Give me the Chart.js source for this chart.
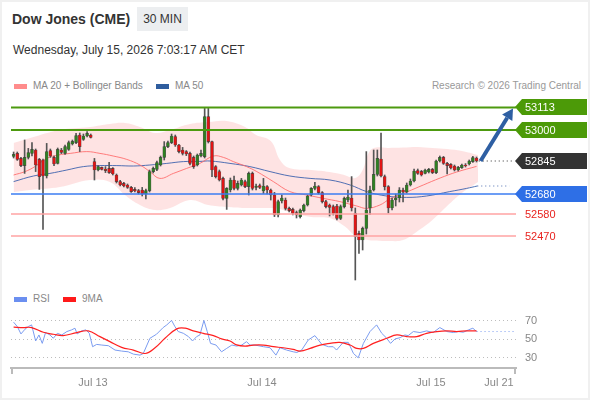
<!DOCTYPE html>
<html>
<head>
<meta charset="utf-8">
<script src="https://cdn.jsdelivr.net/npm/chart.js@4.4.1/dist/chart.umd.min.js"></script>
<style>
    html, body { margin: 0; padding: 0; background: #fff; }
    body { width: 590px; height: 400px; overflow: hidden; position: relative; font-family: "Liberation Sans", Arial, sans-serif; }
    #frame { position: absolute; left: 0; top: 0; width: 590px; height: 400px; box-sizing: border-box; border: 2px solid #f0f0f0; pointer-events: none; }
    .abs { position: absolute; white-space: nowrap; }
    #title { left: 12px; top: 11px; font-size: 14px; line-height: 16px; font-weight: bold; color: #333; }
    #badge { left: 137px; top: 7px; width: 51px; height: 24px; line-height: 24px; text-align: center; font-size: 12px; color: #333; background: #eceef0; }
    #date { left: 13px; top: 43px; font-size: 12px; line-height: 14px; color: #333; }
    .legend { font-size: 10px; line-height: 12px; color: #888; }
    .sw { position: absolute; width: 13px; height: 5px; }
    #price-canvas { position: absolute; left: 0; top: 95px; }
    #rsi-canvas { position: absolute; left: 0; top: 290px; }
</style>
</head>
<body>
<div id="title" class="abs">Dow Jones (CME)</div>
<div id="badge" class="abs">30 MIN</div>
<div id="date" class="abs">Wednesday, July 15, 2026 7:03:17 AM CET</div>

<div class="sw" style="left:14px; top:84px; background:#ff8c8c;"></div>
<div class="abs legend" style="left:33px; top:80px;">MA 20 + Bollinger Bands</div>
<div class="sw" style="left:156px; top:84px; background:#2f5d9e;"></div>
<div class="abs legend" style="left:175px; top:80px;">MA 50</div>
<div class="abs legend" style="right:9px; top:80px; color:#999;">Research © 2026 Trading Central</div>

<div class="sw" style="left:14px; top:297px; background:#6b8ff0;"></div>
<div class="abs legend" style="left:33px; top:293px;">RSI</div>
<div class="sw" style="left:63px; top:297px; background:#ff1a1a;"></div>
<div class="abs legend" style="left:82px; top:293px;">9MA</div>

<canvas id="price-canvas" width="590" height="195"></canvas>
<canvas id="rsi-canvas" width="590" height="110"></canvas>
<div id="frame"></div>

<script>
// 30 min candles, index 0 = first candle on the left
const candleOpen = [52868,52883,52858,52822,52863,52883,52900,52853,52850,52770,52897,52863,52833,52900,52883,52903,52930,52937,52975,52953,52970,52975,
    52842,52800,52813,52805,52808,52808,52775,52742,52733,52725,52713,52703,52697,52700,52680,52697,52792,52803,52825,52863,52917,52937,52967,52925,
    52900,52892,52883,52863,52825,52870,52867,53067,52942,52817,52792,52758,52658,52700,52750,52708,52725,52742,52717,52783,52713,52722,52695,52717,
    52700,52675,52575,52645,52650,52608,52603,52587,52567,52597,52625,52675,52708,52717,52687,52642,52625,52617,52620,52558,52617,52650,52660,52583,
    52483,52450,52508,52610,52700,52778,52855,52767,52717,52610,52650,52660,52700,52690,52725,52745,52797,52793,52783,52790,52803,52787,52845,52863,
    52833,52828,52820,52800,52812,52825,52830,52842,52860];
const candleHigh = [52890,52890,52863,52950,52908,52937,52905,52858,52855,52933,52905,52870,52910,52908,52925,52945,52950,52983,52985,52980,52992,52980,
    52858,52822,52815,52817,52838,52812,52780,52748,52738,52730,52718,52712,52703,52713,52705,52800,52815,52845,52870,52942,52945,52980,52975,52928,
    52913,52897,52890,52870,52880,52900,53108,53108,52945,52822,52800,52765,52712,52760,52770,52745,52758,52750,52790,52790,52730,52730,52758,52722,
    52705,52688,52650,52675,52660,52615,52610,52595,52605,52630,52675,52712,52738,52722,52692,52648,52630,52625,52628,52625,52665,52700,52767,52610,
    52495,52515,52892,52720,52900,52900,52985,52775,52722,52660,52680,52712,52710,52735,52755,52805,52805,52798,52805,52808,52808,52850,52870,52868,
    52838,52832,52825,52818,52830,52832,52850,52868,52865];
const candleLow = [52860,52848,52817,52783,52855,52870,52792,52703,52503,52760,52863,52822,52830,52882,52878,52898,52925,52932,52892,52948,52965,52960,
    52750,52795,52800,52787,52783,52775,52735,52720,52715,52708,52688,52690,52680,52670,52655,52690,52785,52797,52820,52850,52912,52932,52918,52885,
    52875,52872,52825,52808,52820,52865,52860,52935,52767,52760,52745,52650,52603,52690,52700,52700,52720,52712,52675,52700,52700,52707,52683,52680,
    52650,52567,52565,52635,52600,52590,52575,52560,52560,52590,52620,52670,52700,52680,52635,52610,52570,52575,52550,52552,52610,52640,52595,52250,
    52383,52400,52480,52578,52695,52770,52765,52700,52585,52600,52620,52640,52640,52685,52720,52740,52778,52770,52780,52785,52782,52782,52840,52828,
    52780,52805,52795,52795,52808,52815,52825,52838,52840];
const candleClose = [52878,52853,52822,52863,52887,52903,52825,52767,52770,52892,52870,52830,52903,52888,52917,52937,52943,52972,52917,52970,52983,52963,
    52800,52817,52803,52797,52787,52780,52742,52725,52720,52713,52692,52695,52687,52680,52697,52792,52808,52837,52863,52917,52937,52970,52925,52892,
    52883,52880,52833,52817,52875,52883,53067,52942,52800,52767,52750,52658,52708,52750,52708,52733,52750,52717,52783,52708,52720,52713,52720,52700,
    52675,52575,52642,52660,52608,52597,52583,52575,52600,52625,52670,52708,52720,52687,52642,52617,52613,52583,52558,52617,52658,52665,52610,52467,
    52450,52508,52600,52700,52778,52858,52770,52717,52610,52650,52660,52700,52690,52725,52745,52795,52783,52775,52800,52803,52787,52845,52863,52833,
    52822,52810,52800,52813,52825,52822,52845,52862,52845];

// moving averages (candle index, price)
const ma20Idx = [0,3.1,5.8,9,12.2,15.4,19.9,23.5,27.1,30.8,34.4,37.1,39.8,43.5,47.1,50.7,54.4,57.1,59.8,63.4,66.2,70.7,75.2,79.8,84.3,88.8,93.4,96.1,99.7,102.4,107,111.5,116.1,120.6,126];
const ma20Val = [52775,52792,52817,52858,52875,52883,52892,52883,52870,52853,52825,52792,52758,52783,52808,52833,52870,52863,52842,52817,52792,52742,52692,52675,52658,52642,52620,52608,52625,52655,52690,52725,52760,52790,52818];
const ma50Idx = [0,5.4,9.9,14.5,19,23.5,28.1,32.6,37.1,41.7,46.2,50.7,53.5,58.9,64.3,69.8,75.2,80.7,86.1,91.6,96.1,101.5,107,112.4,118.7,123.3,126.2];
const ma50Val = [52742,52770,52783,52800,52817,52822,52822,52820,52825,52833,52842,52843,52845,52833,52817,52792,52770,52758,52750,52725,52692,52670,52663,52670,52692,52708,52720];
const bandIdx = [0,4.5,12.6,20.8,26.2,30.3,34.4,38.5,42.6,48,53,58,63,66,70,72.5,75,81,86,90,93,95,96.5,98,102,106,110,114,118,122,126.4];
const bandUpper = [52935,52960,53000,53015,53030,53035,53015,52985,53000,53030,53040,53045,53015,52975,52945,52850,52810,52800,52790,52775,52760,52800,52880,52910,52910,52912,52915,52910,52905,52895,52875];
const bandLower = [52690,52700,52715,52750,52740,52675,52625,52600,52610,52650,52625,52615,52610,52610,52610,52605,52590,52565,52560,52520,52470,52455,52450,52447,52445,52450,52495,52550,52620,52685,52740];

// support / resistance levels shown on the right
const levelValues = [53113, 53000, 52845, 52680, 52580, 52470];

// RSI panel
const rsiIdx = [0,1,2,3.1,4,4.9,6,6.9,7.8,8.7,9.9,10.8,11.9,13.1,14.5,15.8,16.7,17.3,18.5,19.7,20.6,21.5,22.6,24,25.8,27.6,29.4,31.2,32.6,34.4,35.3,
    37.1,38.9,40.7,41.7,43,43.9,44.8,46.2,47.6,48.7,49.8,50.7,51.8,52.7,53.6,55.1,56.6,58,59.4,60.7,62.1,63.4,64.3,65.7,68,69.8,71.4,72.5,74.3,76.1,
    77.1,78.4,80.2,82,83.9,85.7,87,87.9,89.7,91.1,92.5,93.8,95.2,97,98.8,100.2,101.4,102.6,103.8,105.2,106.5,107.4,108.8,110.6,112.4,114.2,116,117.9,
    119.7,121,122.4,123.8,125,126];
const rsiVal = [68.5,63.8,55.8,60.9,63.8,65.6,48.2,54.7,45.6,57.3,54.7,51.1,56.5,54.7,58.4,60.2,62,55.8,59.1,60.2,56.5,42,44.5,43.8,43.1,38.4,37.3,
    36.5,34,32.9,34.7,51.1,55.5,62.7,65.6,70.4,63.8,58.4,56.5,52.9,48.2,52.9,54.7,70.4,58.4,45.6,43.8,36.5,40.2,43.8,42.7,43.8,47.5,43.8,43.8,42,40.9,
    32.9,40.9,38.4,36.5,35.8,38.4,49.3,54,44.5,42,42,38.4,46.7,46.7,34.7,30,45.6,58.4,65.6,56.5,51.8,45.6,50.4,51.8,54.7,54,58.4,57.3,59.1,57.3,62.7,
    58.4,57.3,58.4,57.6,60.2,62,58.4];
const rsiMaIdx = [0,2.6,4.9,8.1,10.8,13.5,17.2,20.3,23.5,26.2,29.4,32.6,35.8,38.5,41.2,44.4,46.7,48.9,51.6,54.4,56.6,58.9,60.7,63,65.2,68,70.7,73.4,
    76.1,78,80.7,83.4,86.1,88.8,91.6,93.4,95.2,97.9,101.6,104.3,107,109.7,112.4,115.2,117.9,120.6,123.3,126];
const rsiMaVal = [63.1,62.7,62.7,57.6,55.5,54,57.3,59.1,52.9,47.5,41.3,38.4,34.7,40.9,51.1,61.3,62,59.1,56.5,54,50.4,48.2,44,42.7,43.8,43.8,42,40.9,
    39.1,37.3,40.2,43.8,45.6,46.7,43.8,40.2,40.2,45.6,51.1,54.7,52.9,52.9,56.5,58.4,59.1,58.4,59.1,59.1];
const rsiLevels = [30, 50, 70];

// date ticks on the time axis (candle index of each label)
const dayTickIdx = [21.6, 67.6, 113.6, 132.1];
const dayTickLabels = ['Jul 13', 'Jul 14', 'Jul 15', 'Jul 21'];

// shared horizontal range, in candle slots
const X_MIN = -0.71;
const X_MAX = 136.74;
const FONT = '"Liberation Sans", Arial, sans-serif';

const pts = (xs, ys) => xs.map((x, i) => ({ x: x, y: ys[i] }));
const lastIdx = candleClose.length - 1;
const lastClose = candleClose[lastIdx];

const wicks = candleHigh.map((h, i) => ({ x: i, y: [candleLow[i], h] }));
const bodies = candleOpen.map((o, i) => ({ x: i, y: [o, candleClose[i]] }));
const bodyColors = candleOpen.map((o, i) => candleClose[i] >= o ? '#2f7f22' : '#e01414');

const levelLine = (v, color, width) => ({
    type: 'line', data: [{ x: X_MIN, y: v }, { x: X_MAX, y: v }],
    borderColor: color, borderWidth: width, pointRadius: 0, fill: false, order: 1
});
const levelStyles = [
    { line: '#4d9a0f', w: 2, box: '#4c9a08', text: '#fff' },
    { line: '#4d9a0f', w: 2, box: '#4c9a08', text: '#fff' },
    { line: null, w: 0, box: '#333333', text: '#fff' },
    { line: '#3b7cf2', w: 1.5, box: '#2e6fe6', text: '#fff' },
    { line: '#ffa3a3', w: 1.5, box: null, text: '#e8231f' },
    { line: '#ffa3a3', w: 1.5, box: null, text: '#e8231f' }
];

const levelDatasets = [];
levelValues.forEach((v, k) => {
    if (levelStyles[k].line) levelDatasets.push(levelLine(v, levelStyles[k].line, levelStyles[k].w));
});

const priceOverlay = {
    id: 'priceOverlay',
    afterDraw(chart) {
        const { ctx, scales: { x, y } } = chart;
        ctx.save();
        // arrow towards first resistance
        const x0 = x.getPixelForValue(lastIdx) + 4, y0 = y.getPixelForValue(lastClose);
        const x1 = x.right - 3, y1 = y.getPixelForValue(levelValues[0]) + 1;
        const ang = Math.atan2(y1 - y0, x1 - x0);
        const hx = x1 - 11 * Math.cos(ang), hy = y1 - 11 * Math.sin(ang);
        ctx.strokeStyle = '#2e5fa3';
        ctx.fillStyle = '#2e5fa3';
        ctx.lineWidth = 4;
        ctx.beginPath(); ctx.moveTo(x0, y0); ctx.lineTo(hx, hy); ctx.stroke();
        ctx.beginPath();
        ctx.moveTo(x1, y1);
        ctx.lineTo(hx + 6 * Math.sin(ang), hy - 6 * Math.cos(ang));
        ctx.lineTo(hx - 6 * Math.sin(ang), hy + 6 * Math.cos(ang));
        ctx.closePath(); ctx.fill();

        // level tags
        ctx.font = '11px ' + FONT;
        ctx.textBaseline = 'middle';
        levelValues.forEach((v, k) => {
            const st = levelStyles[k];
            const py = Math.round(y.getPixelForValue(v));
            const left = x.right - 1;
            if (st.box) {
                ctx.fillStyle = st.box;
                ctx.beginPath();
                ctx.moveTo(left, py);
                ctx.lineTo(left + 7, py - 8);
                ctx.lineTo(587, py - 8);
                ctx.lineTo(587, py + 8);
                ctx.lineTo(left + 7, py + 8);
                ctx.closePath();
                ctx.fill();
            }
            ctx.fillStyle = st.text;
            ctx.fillText(String(v), 525, py + 0.5);
        });
        ctx.restore();
    }
};

new Chart(document.getElementById('price-canvas'), {
    type: 'bar',
    data: {
        datasets: [
            { type: 'line', data: pts(bandIdx, bandUpper), borderWidth: 0, pointRadius: 0, tension: 0.4,
              fill: '+1', backgroundColor: 'rgba(248, 80, 80, 0.16)', order: 10 },
            { type: 'line', data: pts(bandIdx, bandLower), borderWidth: 0, pointRadius: 0, tension: 0.4, fill: false, order: 10 },
            { type: 'line', data: pts(ma20Idx, ma20Val), borderColor: 'rgba(255, 105, 105, 0.85)', borderWidth: 1,
              pointRadius: 0, tension: 0.4, fill: false, order: 8 },
            { type: 'line', data: pts(ma50Idx, ma50Val), borderColor: 'rgba(50, 90, 170, 0.85)', borderWidth: 1,
              pointRadius: 0, tension: 0.4, fill: false, order: 8 },
            { type: 'line', data: [{ x: ma50Idx[ma50Idx.length - 1], y: ma50Val[ma50Val.length - 1] }, { x: X_MAX - 1.8, y: ma50Val[ma50Val.length - 1] }],
              borderColor: '#4f6fb0', borderWidth: 1, borderDash: [1, 3], pointRadius: 0, fill: false, order: 2 },
            { type: 'line', data: [{ x: lastIdx + 0.6, y: lastClose }, { x: X_MAX - 0.8, y: lastClose }],
              borderColor: '#333', borderWidth: 1, borderDash: [1, 3], pointRadius: 0, fill: false, order: 2 },
            ...levelDatasets,
            { data: wicks, backgroundColor: '#555', barThickness: 1, grouped: false, order: 5 },
            { data: bodies, backgroundColor: bodyColors, borderColor: 'rgba(50, 50, 50, 0.75)', borderWidth: 0.6,
              borderSkipped: false, barThickness: 3, grouped: false, order: 4 }
        ]
    },
    options: {
        responsive: false,
        animation: false,
        events: [],
        layout: { padding: { left: 11, right: 74, top: 5, bottom: 5 } },
        plugins: { legend: { display: false }, tooltip: { enabled: false } },
        scales: {
            x: { type: 'linear', min: X_MIN, max: X_MAX, offset: false, display: false },
            y: { min: 52225, max: 53150, display: false }
        }
    },
    plugins: [priceOverlay]
});

const rsiOverlay = {
    id: 'rsiOverlay',
    afterDraw(chart) {
        const { ctx, chartArea } = chart;
        ctx.save();
        ctx.strokeStyle = '#bbb';
        ctx.lineWidth = 2;
        ctx.beginPath();
        ctx.moveTo(chartArea.left + 1, chartArea.bottom);
        ctx.lineTo(chartArea.left + 1, chartArea.bottom + 6);
        ctx.moveTo(chartArea.right - 1, chartArea.bottom);
        ctx.lineTo(chartArea.right - 1, chartArea.bottom + 6);
        ctx.stroke();
        ctx.restore();
    }
};

new Chart(document.getElementById('rsi-canvas'), {
    type: 'line',
    data: {
        datasets: [
            { data: pts(rsiIdx, rsiVal), borderColor: '#7b9cf0', borderWidth: 1, pointRadius: 0, tension: 0, fill: false, order: 2 },
            { data: [{ x: rsiIdx[rsiIdx.length - 1], y: rsiVal[rsiVal.length - 1] }, { x: X_MAX - 0.3, y: rsiVal[rsiVal.length - 1] }],
              borderColor: '#7b9cf0', borderWidth: 1, borderDash: [1, 3], pointRadius: 0, fill: false, order: 2 },
            { data: pts(rsiMaIdx, rsiMaVal), borderColor: '#ff2020', borderWidth: 1.2, pointRadius: 0, tension: 0.4, fill: false, order: 1 }
        ]
    },
    options: {
        responsive: false,
        animation: false,
        events: [],
        layout: { padding: { left: 11, right: 0, top: 16, bottom: 0 } },
        plugins: { legend: { display: false }, tooltip: { enabled: false } },
        scales: {
            x: {
                type: 'linear', min: X_MIN, max: X_MAX, offset: false,
                afterFit(axis) { axis.height = 32; },
                afterBuildTicks(axis) { axis.ticks = dayTickIdx.map(v => ({ value: v })); },
                grid: { display: false, drawTicks: false },
                border: { display: true, color: '#bbb', width: 2 },
                ticks: {
                    autoSkip: false, maxRotation: 0, padding: 8, color: '#888',
                    font: { family: FONT, size: 11 },
                    callback: (v, i) => dayTickLabels[i]
                }
            },
            y: {
                position: 'right', min: 19, max: 86,
                afterFit(axis) { axis.width = 74; },
                afterBuildTicks(axis) { axis.ticks = rsiLevels.map(v => ({ value: v })); },
                grid: { color: '#bdbdbd', lineWidth: 1, drawTicks: false },
                border: { display: false, dash: [1, 3] },
                ticks: { padding: 9, color: '#888', font: { family: FONT, size: 11 } }
            }
        }
    },
    plugins: [rsiOverlay]
});
</script>
</body>
</html>
